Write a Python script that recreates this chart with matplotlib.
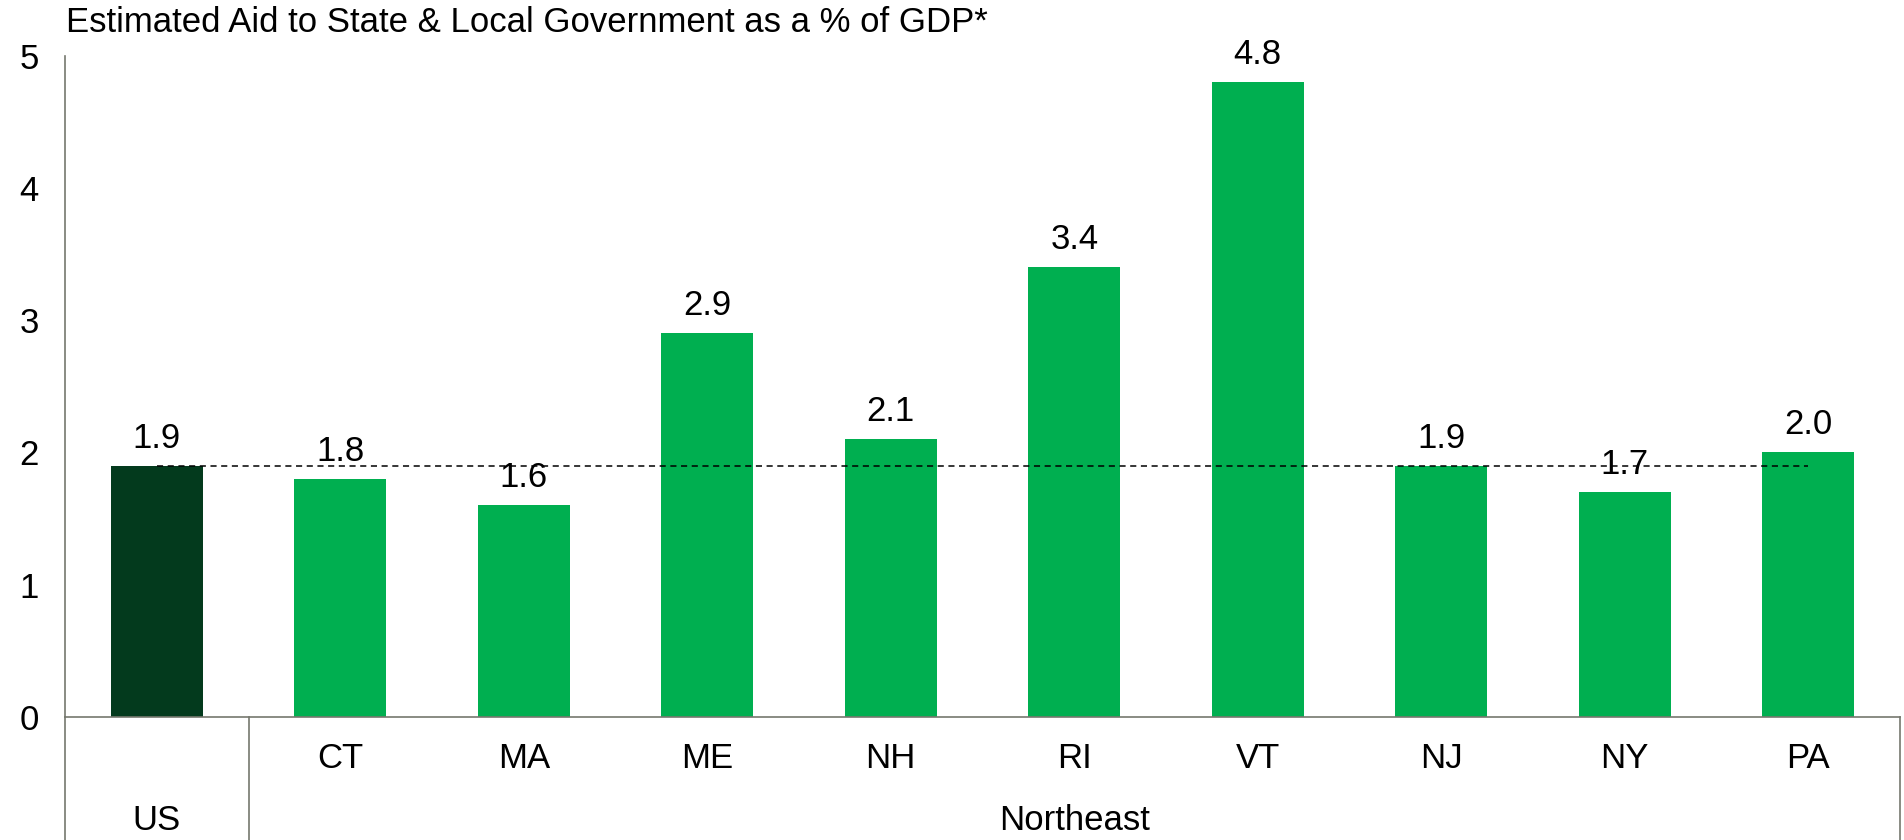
import matplotlib
matplotlib.use("Agg")
import matplotlib.pyplot as plt
from matplotlib.lines import Line2D

plt.rcParams['font.family'] = ['Liberation Sans', 'DejaVu Sans']

categories = ["US", "CT", "MA", "ME", "NH", "RI", "VT", "NJ", "NY", "PA"]
values = [1.9, 1.8, 1.6, 2.9, 2.1, 3.4, 4.8, 1.9, 1.7, 2.0]
labels = ["1.9", "1.8", "1.6", "2.9", "2.1", "3.4", "4.8", "1.9", "1.7", "2.0"]
groups = [("US", 0, 0), ("Northeast", 1, 9)]
us_average = 1.9
title = "Estimated Aid to State & Local Government as a % of GDP*"

FS = 25
W, H = 1904, 840
fig = plt.figure(figsize=(W / 100, H / 100), dpi=100)
ax_left, ax_right, ax_zero, ax_top = 65, 1900, 716.7, 56
ax = fig.add_axes([ax_left / W, 1 - ax_zero / H, (ax_right - ax_left) / W, (ax_zero - ax_top) / H])

dark = "#033A1D"
green = "#00AF50"
spine_c = "#76786E"
colors = [dark] + [green] * (len(categories) - 1)
x = list(range(len(categories)))
ax.bar(x, values, width=0.5, color=colors, zorder=2)

for xi, v, lab in zip(x, values, labels):
    ax.annotate(lab, (xi, v), xytext=(0, 8), textcoords="offset points",
                ha="center", va="bottom", fontsize=FS, color="black")

ax.plot([0, len(categories) - 1], [us_average, us_average], color="black",
        lw=1.1, ls=(0, (4, 3)), zorder=3)

ax.set_xlim(-0.5, len(categories) - 0.5)
ax.set_ylim(0, 5.0)
ax.set_yticks([0, 1, 2, 3, 4, 5])
ax.tick_params(axis="y", length=0, labelsize=FS, pad=19)
ax.set_xticks([])
for s in ["top", "right"]:
    ax.spines[s].set_visible(False)
ax.spines["left"].set_color(spine_c)
ax.spines["bottom"].set_color(spine_c)
ax.spines["left"].set_linewidth(1.2)
ax.spines["bottom"].set_linewidth(1.2)

# category table below axis
ah = ax_zero - ax_top
y_bottom = -(H - ax_zero) / ah
y_row1 = -(758 - ax_zero) / ah
y_row2 = -(820 - ax_zero) / ah
tr = ax.get_xaxis_transform()
for xb in [-0.5, 0.5, len(categories) - 0.5]:
    ax.add_line(Line2D([xb, xb], [0, y_bottom], transform=tr, color=spine_c,
                       lw=1.2, clip_on=False))
for xi, c in zip(x, categories):
    if c != "US":
        ax.text(xi, y_row1, c, transform=tr, ha="center", va="center", fontsize=FS)
for name, a, b in groups:
    ax.text((a + b) / 2, y_row2, name, transform=tr, ha="center", va="center", fontsize=FS)

fig.text(66 / W, 1 - 22 / H, title, ha="left", va="center", fontsize=FS)

fig.savefig("out.png", dpi=100, facecolor="white")
